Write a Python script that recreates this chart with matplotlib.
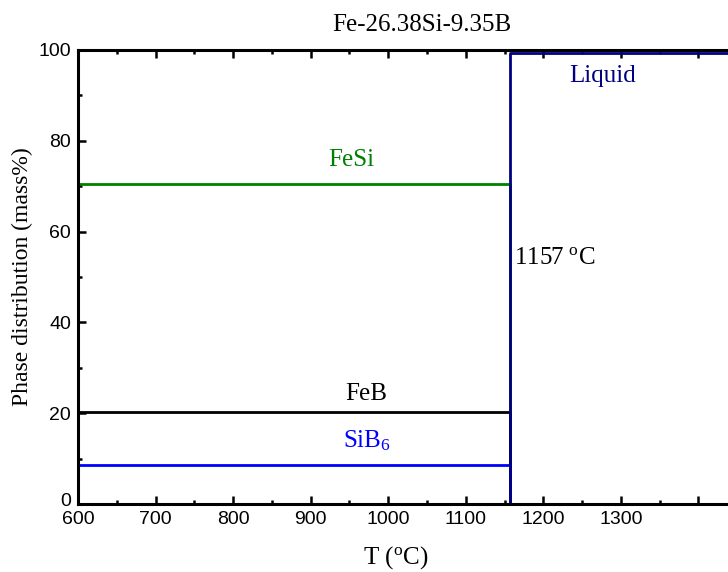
import matplotlib
matplotlib.use("Agg")
import matplotlib.pyplot as plt
import matplotlib.transforms as mtransforms
from matplotlib.ticker import MultipleLocator

# Equilibrium phase fractions (mass%) versus temperature
t_solid = [600, 1157, 1157]
fesi = [70.5, 70.5, 0]
feb = [20.3, 20.3, 0]
sib6 = [8.6, 8.6, 0]
t_liquid = [1157, 1157, 1500]
liquid = [0, 99.3, 99.3]

x_ticks = [600, 700, 800, 900, 1000, 1100, 1200, 1300, 1400]
x_labels = ["600", "700", "800", "900", "1000", "1100", "1200", "1300", ""]
y_ticks = [0, 20, 40, 60, 80, 100]

serif = ["Liberation Serif", "DejaVu Serif"]
sans = ["Liberation Sans", "DejaVu Sans"]

W, H = 728, 572
fig = plt.figure(figsize=(W / 100, H / 100), dpi=100)
ax_left, ax_bottom, ax_w, ax_h = 78, 68, 698, 454
ax = fig.add_axes([ax_left / W, ax_bottom / H, ax_w / W, ax_h / H])

lw = 2.0
ax.plot(t_solid, fesi, color="#008000", lw=lw)
ax.plot(t_solid, feb, color="black", lw=lw)
ax.plot(t_solid, sib6, color="#0000ff", lw=lw)
ax.plot(t_liquid, liquid, color="#000080", lw=lw)

ax.set_xlim(600, 1500)
ax.set_ylim(0, 100)
ax.set_xticks(x_ticks)
ax.set_xticklabels(x_labels)
ax.set_yticks(y_ticks)
ax.xaxis.set_minor_locator(MultipleLocator(50))
ax.yaxis.set_minor_locator(MultipleLocator(10))

ax.tick_params(which="both", direction="in", top=True, right=False, width=1.8)
ax.tick_params(which="major", length=6, labelsize=14, pad=5)
ax.tick_params(which="minor", length=3)
for lab in ax.get_xticklabels() + ax.get_yticklabels():
    lab.set_family(sans)
for s in ax.spines.values():
    s.set_linewidth(2.2)

# lift the "0" label slightly so it clears the first x tick label
zero_lab = ax.get_yticklabels()[0]
zero_lab.set_transform(zero_lab.get_transform() +
                       mtransforms.ScaledTranslation(0, 5 / 100, fig.dpi_scale_trans))

ax.set_xlabel("T ($\\mathregular{^o}$C)", family=serif, fontsize=18)
ax.xaxis.set_label_coords((396 - ax_left) / ax_w, -(558 - (H - ax_bottom)) / ax_h)
ax.xaxis.label.set_va("center")
ax.set_ylabel("Phase distribution (mass%)", family=serif, fontsize=17)
ax.yaxis.set_label_coords(-(ax_left - 22) / ax_w, 0.5)
ax.yaxis.label.set_va("center")
ax.set_title("Fe-26.38Si-9.35B", family=serif, fontsize=18, pad=14,
             x=(422 - ax_left) / ax_w)

tkw = dict(family=serif, fontsize=18, ha="center", va="center")
ax.text(952, 75.8, "FeSi", color="#008000", **tkw)
ax.text(972, 24.3, "FeB", color="black", **tkw)
ax.text(972, 14.0, "SiB$\\mathregular{_6}$", color="#0000ff", **tkw)
ax.text(1277, 94.3, "Liquid", color="#000080", **tkw)
ax.text(1162, 54.2, "1157 $\\mathregular{^o}$C", color="black", family=serif,
        fontsize=18, ha="left", va="center")

fig.savefig("out.png", dpi=100)
